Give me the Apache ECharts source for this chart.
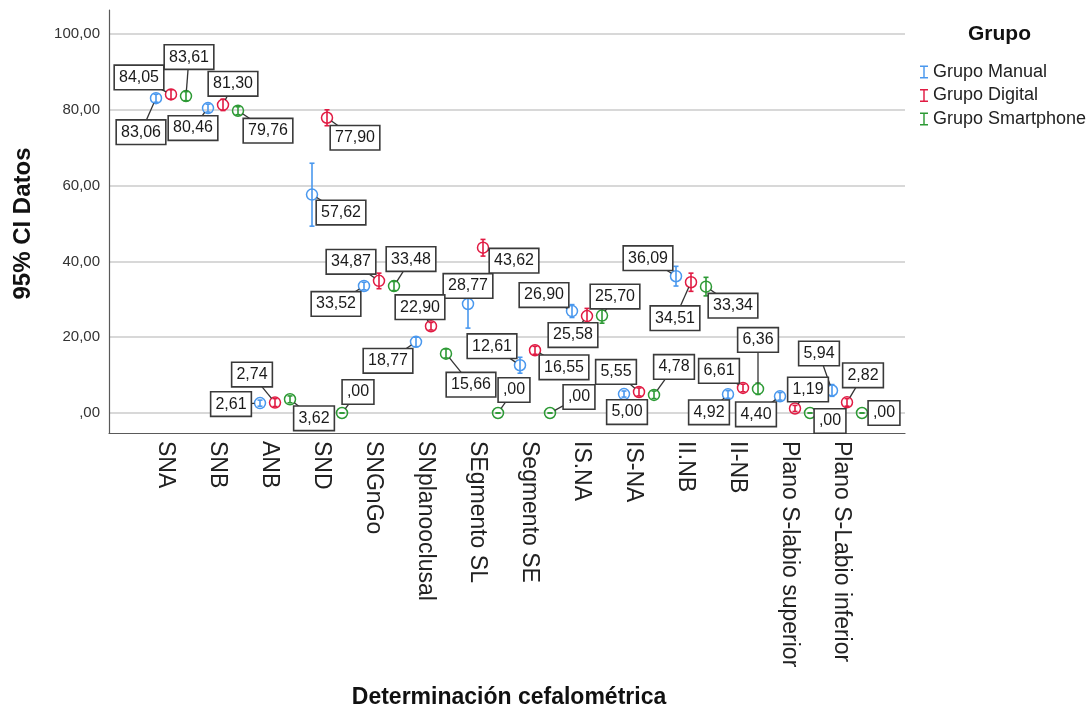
<!DOCTYPE html>
<html><head><meta charset="utf-8">
<script src="https://cdn.jsdelivr.net/npm/echarts@6/dist/echarts.min.js"></script>
<style>html,body{margin:0;padding:0;background:#fff}#c{width:1091px;height:708px}</style>
</head><body><div id="c"></div>
<script>
const categories = ['SNA','SNB','ANB','SND','SNGnGo','SNplanooclusal','SEgmento SL','Segmento SE','IS.NA','IS-NA','II.NB','II-NB','Plano S-labio superior','Plano S-Labio inferior'];
const groups = ['Grupo Manual','Grupo Digital','Grupo Smartphone'];
const yTicks = [0, 20, 40, 60, 80, 100];

const meanManual = [83.06,80.46,2.61,57.62,33.52,18.77,28.77,12.61,26.90,5.00,36.09,4.92,4.40,5.94];
const lowManual  = [82.0,79.4,1.8,49.3,32.5,17.5,22.4,10.5,25.2,4.2,33.5,3.9,3.4,4.4];
const highManual = [84.1,81.5,3.4,65.9,34.5,20.0,35.1,14.7,28.6,5.8,38.7,5.9,5.4,7.5];

const meanDigital = [84.05,81.30,2.74,77.90,34.87,22.90,43.62,16.55,25.58,5.55,34.51,6.61,1.19,2.82];
const lowDigital  = [82.8,79.8,1.7,75.8,32.8,21.9,41.4,15.5,23.6,4.5,32.1,5.6,0.4,1.8];
const highDigital = [85.3,82.8,3.8,80.0,36.9,23.9,45.8,17.6,27.6,6.6,36.9,7.6,2.0,3.8];

const meanSmart = [83.61,79.76,3.62,0.00,33.48,15.66,0.00,0.00,25.70,4.78,33.34,6.36,0.00,0.00];
const lowSmart  = [82.4,78.7,2.7,0,32.3,14.5,0,0,23.7,3.8,30.9,4.9,0,0];
const highSmart = [84.8,80.8,4.5,0,34.7,16.9,0,0,27.7,5.8,35.8,7.9,0,0];

// layout (pixels): label box offsets from each point
const labelOffManual = [[-15,34],[-15,20],[-29,1],[29,18],[-28,18],[-28,19],[0,-18],[-28,-19],[-28,-16],[3,18],[-28,-18],[-19,18],[-24,18],[-13,-37]];
const labelOffDigital = [[-32,-17],[10,-21],[-23,-28],[28,20],[-28,-19],[-11,-19],[31,13],[29,17],[-14,19],[-23,-20],[-16,36],[-24,-17],[13,-19],[16,-27]];
const labelOffSmart = [[3,-39],[30,20],[24,19],[16,-21],[17,-27],[25,31],[16,-23],[29,-16],[13,-19],[20,-28],[27,19],[0,-49],[20,8],[22,0]];

const colors = ['#4a98ee','#e11b43','#2d9a35'];
const groupShift = [-15, 0, 15];
const FONT = '"Liberation Sans", Arial, sans-serif';

const means = [meanManual, meanDigital, meanSmart];
const lows = [lowManual, lowDigital, lowSmart];
const highs = [highManual, highDigital, highSmart];
const labelOffs = [labelOffManual, labelOffDigital, labelOffSmart];

function fmt(v){ return v === 0 ? ',00' : v.toFixed(2).replace('.', ','); }

function seriesData(gi){
  return categories.map((c,i)=>[i, means[gi][i], lows[gi][i], highs[gi][i]]);
}

function pointSeries(gi){
  const col = colors[gi];
  return {
    type:'custom', name: groups[gi], xAxisIndex:2, yAxisIndex:2, z:3,
    itemStyle:{color: col},
    data: seriesData(gi),
    renderItem: function(params, api){
      const i = api.value(0);
      const p = api.coord([i, api.value(1)]);
      const lo = api.coord([i, api.value(2)]);
      const hi = api.coord([i, api.value(3)]);
      const x = p[0] + groupShift[gi];
      const st = {stroke:col, lineWidth:1.6};
      return {type:'group', children:[
        {type:'line', shape:{x1:x,y1:lo[1],x2:x,y2:hi[1]}, style:st},
        {type:'line', shape:{x1:x-2.5,y1:lo[1],x2:x+2.5,y2:lo[1]}, style:st},
        {type:'line', shape:{x1:x-2.5,y1:hi[1],x2:x+2.5,y2:hi[1]}, style:st},
        {type:'circle', shape:{cx:x, cy:p[1], r:5.5}, style:{fill:'rgba(255,255,255,0)', stroke:col, lineWidth:1.5}}
      ]};
    }
  };
}

function labelSeries(gi){
  return {
    type:'custom', name: 'lbl' + gi, xAxisIndex:2, yAxisIndex:2, z:5, silent:true,
    data: seriesData(gi),
    renderItem: function(params, api){
      const i = api.value(0);
      const p = api.coord([i, api.value(1)]);
      const x = p[0] + groupShift[gi], y = p[1];
      const off = labelOffs[gi][i];
      const bx = x + off[0], by = y + off[1];
      const d = Math.hypot(off[0], off[1]);
      const ch = [];
      if (d > 8) {
        const ux = off[0]/d, uy = off[1]/d;
        ch.push({type:'line', z2:1, shape:{x1:x+ux*5.5, y1:y+uy*5.5, x2:bx, y2:by}, style:{stroke:'#333', lineWidth:1.3}});
      }
      ch.push({type:'text', z2:5, x:bx, y:by, style:{
        text: fmt(api.value(1)), align:'center', verticalAlign:'middle',
        font:'16px ' + FONT, fill:'#1a1a1a',
        backgroundColor:'#fff', borderColor:'#3a3a3a', borderWidth:1.6, padding:[4,4,3,4]
      }});
      return {type:'group', children: ch};
    }
  };
}

const chart = echarts.init(document.getElementById('c'));
const option = {
  backgroundColor:'#fff',
  animation:false,
  textStyle:{fontFamily: FONT},
  grid:[
    {left:109, right:186, top:10, bottom:275, outerBoundsMode:'none', containLabel:false},
    {left:109, right:186, top:34, bottom:295, outerBoundsMode:'none', containLabel:false},
    {left:145, right:218, top:34, bottom:295, outerBoundsMode:'none', containLabel:false},
    {left:139, right:224, top:34, bottom:295, outerBoundsMode:'none', containLabel:false}
  ],
  xAxis:[
    {type:'value', gridIndex:0, min:0, max:1, axisLine:{show:true, onZero:false, lineStyle:{color:'#5a5a5a', width:1.2}}, axisTick:{show:false}, axisLabel:{show:false}, splitLine:{show:false}},
    {type:'value', gridIndex:1, show:false, min:0, max:1},
    {type:'category', gridIndex:2, data:categories, boundaryGap:true,
      axisLine:{show:false}, axisTick:{show:false}, axisLabel:{show:false}, splitLine:{show:false},
      name:'Determinación cefalométrica', nameLocation:'middle', nameGap:273,
      nameTextStyle:{fontSize:23, fontWeight:'bold', color:'#111', fontFamily:FONT}},
    {type:'category', gridIndex:3, data:categories, boundaryGap:true,
      axisLine:{show:false}, axisTick:{show:false}, splitLine:{show:false},
      axisLabel:{interval:0, rotate:-90, margin:28, fontSize:23, color:'#222', fontFamily:FONT}}
  ],
  yAxis:[
    {type:'value', gridIndex:0, min:0, max:1, axisLine:{show:true, onZero:false, lineStyle:{color:'#5a5a5a', width:1.2}}, axisTick:{show:false}, axisLabel:{show:false}, splitLine:{show:false}},
    {type:'value', gridIndex:1, min:yTicks[0], max:yTicks[yTicks.length-1], interval:20,
      axisLine:{show:false}, axisTick:{show:false},
      axisLabel:{formatter: v => fmt(v), fontSize:15, color:'#333', margin:9, fontFamily:FONT},
      splitLine:{show:true, lineStyle:{color:'#cbcbcb', width:1.5}},
      name:'95% CI Datos', nameLocation:'middle', nameRotate:90, nameGap:74,
      nameTextStyle:{fontSize:24, fontWeight:'bold', color:'#111', fontFamily:FONT}},
    {type:'value', gridIndex:2, min:0, max:100, show:false},
    {type:'value', gridIndex:3, min:0, max:100, show:false}
  ],
  legend:{
    data: groups.map(g=>({name:g, icon:'path://M0,0L10,0L10,1.6L5.9,1.6L5.9,14.4L10,14.4L10,16L0,16L0,14.4L4.1,14.4L4.1,1.6L0,1.6Z'})),
    orient:'vertical', left:915, top:58, itemWidth:8, itemHeight:14, itemGap:5.5,
    textStyle:{fontSize:18, color:'#222', fontFamily:FONT}, selectedMode:false
  },
  graphic:[
    {type:'text', left:968, top:24, style:{text:'Grupo', font:'bold 21px ' + FONT, fill:'#111'}}
  ],
  series:[pointSeries(0), pointSeries(1), pointSeries(2), labelSeries(0), labelSeries(1), labelSeries(2)]
};
chart.setOption(option);
</script>
</body></html>
